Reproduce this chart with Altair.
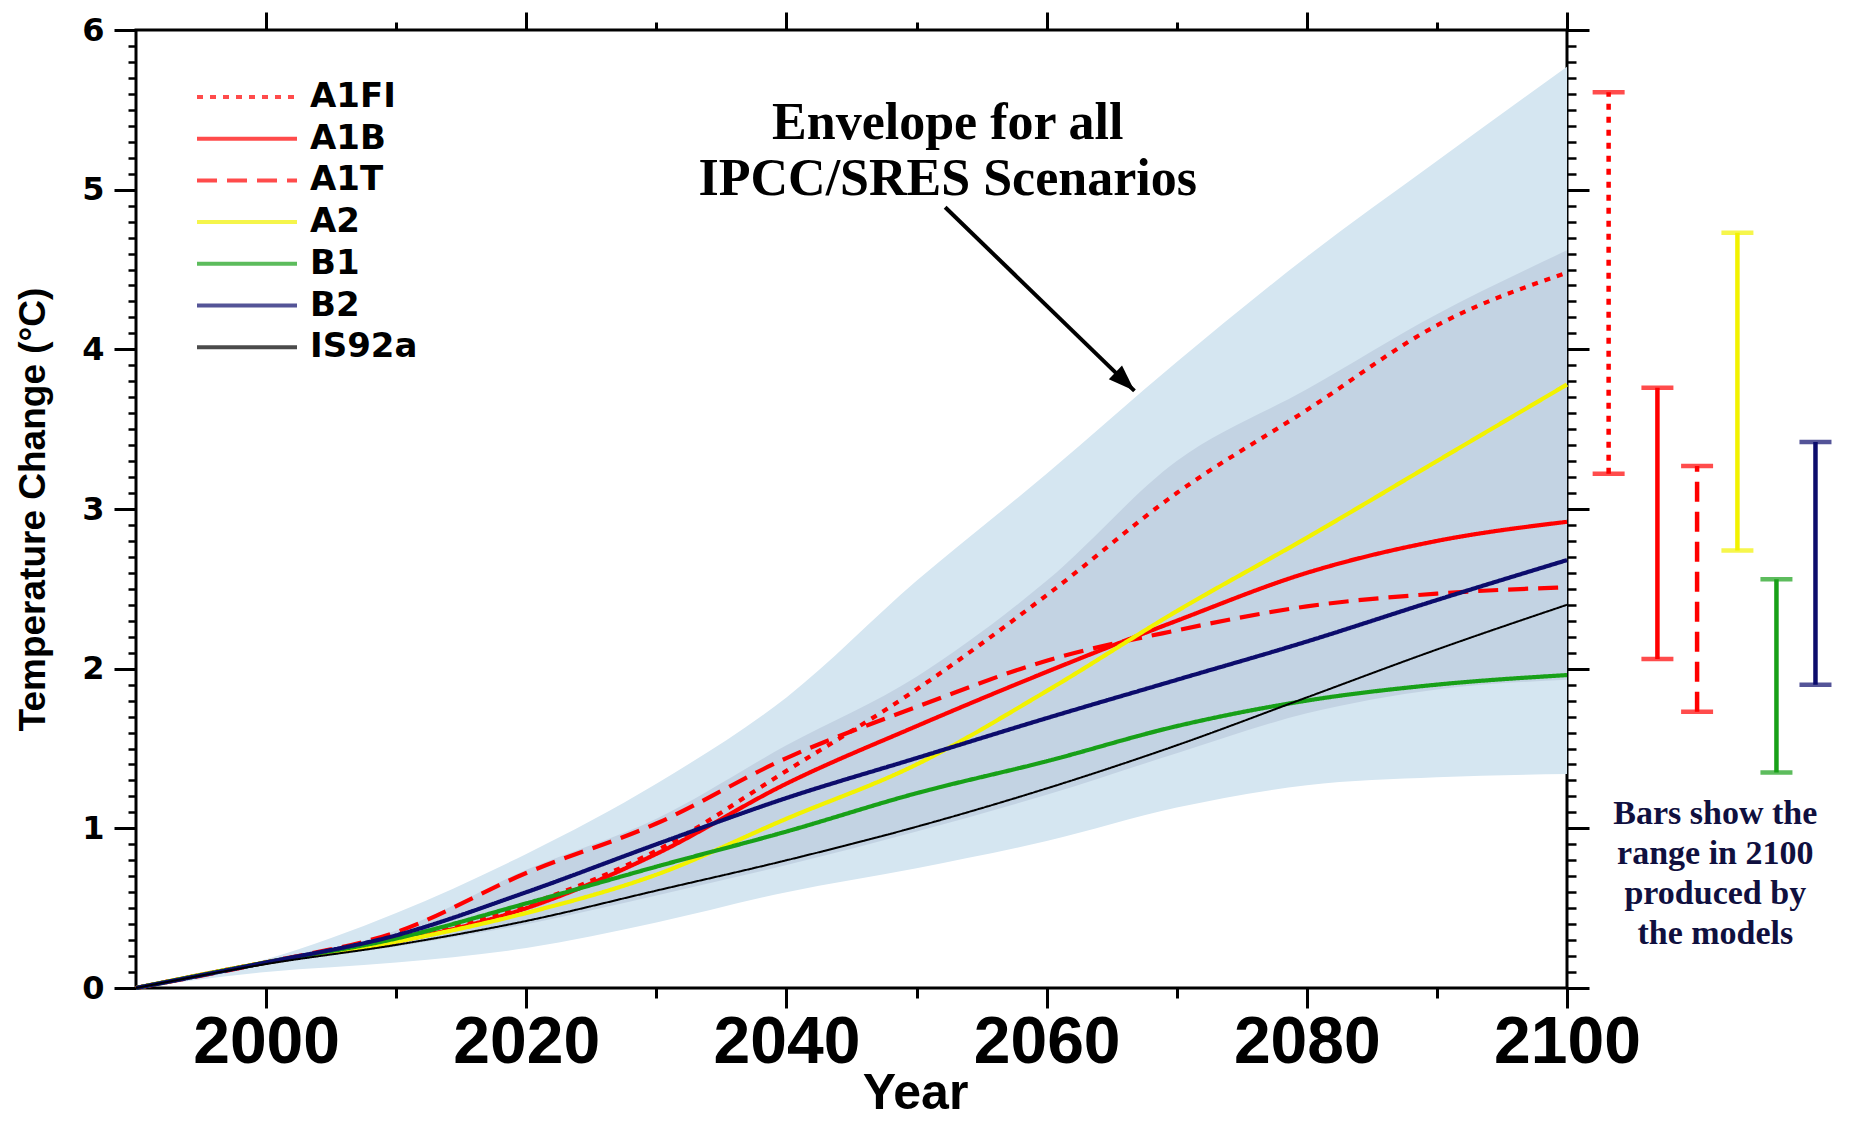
import altair as alt
import pandas as pd

# ---------------- data ----------------
years = [1990, 2000, 2010, 2020, 2030, 2040, 2050, 2060, 2070, 2080, 2090, 2100]
scenarios = ["A1FI", "A1B", "A1T", "A2", "B1", "B2", "IS92a"]

a1fi = [0, 0.16, 0.30, 0.52, 0.86, 1.36, 1.87, 2.46, 3.10, 3.62, 4.15, 4.48]
a1b = [0, 0.16, 0.29, 0.50, 0.84, 1.28, 1.64, 1.98, 2.30, 2.60, 2.80, 2.92]
a1t = [0, 0.16, 0.35, 0.72, 1.03, 1.44, 1.76, 2.05, 2.24, 2.39, 2.47, 2.51]
a2 = [0, 0.16, 0.29, 0.47, 0.71, 1.06, 1.40, 1.86, 2.36, 2.82, 3.30, 3.78]
b1 = [0, 0.16, 0.31, 0.53, 0.76, 0.98, 1.22, 1.42, 1.64, 1.80, 1.90, 1.96]
b2 = [0, 0.16, 0.33, 0.60, 0.90, 1.19, 1.44, 1.69, 1.93, 2.17, 2.43, 2.68]
is92a = [0, 0.15, 0.27, 0.42, 0.61, 0.80, 1.01, 1.25, 1.52, 1.82, 2.12, 2.40]

outer_high = [0, 0.18, 0.47, 0.84, 1.28, 1.82, 2.55, 3.22, 3.92, 4.58, 5.18, 5.77]
outer_low = [0, 0.10, 0.16, 0.25, 0.41, 0.60, 0.75, 0.92, 1.13, 1.27, 1.32, 1.34]
inner_high = [0, 0.16, 0.36, 0.74, 1.06, 1.52, 1.95, 2.55, 3.30, 3.75, 4.22, 4.62]
inner_low = [0, 0.15, 0.26, 0.40, 0.58, 0.77, 0.98, 1.21, 1.47, 1.72, 1.87, 1.93]

bar_scenarios = ["A1FI", "A1B", "A1T", "A2", "B1", "B2"]
bar_low = [3.22, 2.06, 1.73, 2.74, 1.35, 1.90]
bar_high = [5.61, 3.76, 3.27, 4.73, 2.56, 3.42]

x_major = [2000, 2020, 2040, 2060, 2080, 2100]
x_minor = [2010, 2030, 2050, 2070, 2090]
y_major = [0, 1, 2, 3, 4, 5, 6]
y_minor = [round(i * 0.1, 1) for i in range(61) if i % 10]

annotation_lines = ["Envelope for all", "IPCC/SRES Scenarios"]
note_lines = ["Bars show the", "range in 2100", "produced by", "the models"]

# ---------------- styles / layout ----------------
colors = ["#ff0000", "#ff0000", "#ff0000", "#f2f200", "#18a018", "#0c0c6c", "#000000"]
dashes = [[6, 7], [1, 0], [20, 10], [1, 0], [1, 0], [1, 0], [1, 0]]
LIGHT = "#d5e6f1"
DARK = "#c3d3e3"
bar_offsets = [3.2, 6.95, 10.0, 13.1, 16.1, 19.1]  # years right of 2100 (layout)

series = dict(zip(scenarios, [a1fi, a1b, a1t, a2, b1, b2, is92a]))
lines_df = pd.DataFrame(
    [dict(year=y, scenario=s, temp=v) for s in scenarios for y, v in zip(years, series[s])]
)
env_df = pd.DataFrame(dict(year=years, olo=outer_low, ohi=outer_high, ilo=inner_low, ihi=inner_high))
bars_df = pd.DataFrame(dict(scenario=bar_scenarios, lo=bar_low, hi=bar_high,
                            pos=[2100 + o for o in bar_offsets]))
caps_df = pd.concat([
    bars_df[["scenario", "pos"]].assign(val=bars_df["lo"]),
    bars_df[["scenario", "pos"]].assign(val=bars_df["hi"]),
])

xs = alt.Scale(domain=[1990, 2100], nice=False, zero=False)
ys = alt.Scale(domain=[0, 6], nice=False, zero=False)
cscale = alt.Scale(domain=scenarios, range=colors)
dscale = alt.Scale(domain=scenarios, range=dashes)

legend = alt.Legend(
    orient="none", legendX=59, legendY=50, title=None,
    symbolType="stroke", symbolSize=10000, symbolStrokeWidth=4,
    labelFont="DejaVu Sans", labelFontWeight="bold", labelFontSize=34,
    labelColor="black", labelOffset=11, rowPadding=7.7, padding=0, labelLimit=0,
    clipHeight=34,
)


def tick_axis(orient, values, size, width=3):
    return alt.Axis(orient=orient, values=values, tickSize=size, tickWidth=width,
                    tickColor="black", labels=False, domain=False, grid=False, title=None)


ax_bottom = alt.Axis(
    orient="bottom", values=x_major, format="d", tickSize=20, tickWidth=3, tickColor="black",
    domain=False, grid=False, labelFont="Liberation Sans", labelFontWeight="bold",
    labelFontSize=66, labelColor="black", labelPadding=2, labelFlush=False, labelOverlap=False,
    title="Year", titleFont="Liberation Sans", titleFontWeight="bold", titleFontSize=50,
    titleColor="black", titleX=779, titleY=120, titleBaseline="alphabetic", titleAlign="center",
)
ax_left = alt.Axis(
    orient="left", values=y_major, format="d", tickSize=22, tickWidth=3, tickColor="black",
    domain=False, grid=False, labelFont="DejaVu Sans", labelFontWeight="bold",
    labelFontSize=32, labelColor="black", labelPadding=10, labelFlush=False, labelOverlap=False,
    title="Temperature Change (°C)", titleFont="Liberation Sans", titleFontWeight="bold",
    titleFontSize=37, titleColor="black", titleAngle=270, titleX=-92, titleY=479,
    titleBaseline="alphabetic", titleAlign="center",
)

outer = alt.Chart(env_df).mark_area(color=LIGHT, interpolate="monotone").encode(
    x=alt.X("year:Q", scale=xs, axis=ax_bottom),
    y=alt.Y("olo:Q", scale=ys, axis=ax_left),
    y2="ohi:Q",
)
inner = alt.Chart(env_df).mark_area(color=DARK, interpolate="monotone").encode(
    x=alt.X("year:Q", scale=xs, axis=tick_axis("bottom", x_minor, 10)),
    y=alt.Y("ilo:Q", scale=ys, axis=tick_axis("left", y_minor, 8, 2.5)),
    y2="ihi:Q",
)
main_lines = alt.Chart(lines_df[lines_df.scenario != "IS92a"]).mark_line(
    strokeWidth=4.2, interpolate="monotone").encode(
    x=alt.X("year:Q", scale=xs, axis=tick_axis("top", x_major, 18)),
    y=alt.Y("temp:Q", scale=ys, axis=tick_axis("right", y_major, 22)),
    color=alt.Color("scenario:N", scale=cscale, legend=legend, sort=scenarios),
    strokeDash=alt.StrokeDash("scenario:N", scale=dscale, legend=legend, sort=scenarios),
)
thin_line = alt.Chart(lines_df[lines_df.scenario == "IS92a"]).mark_line(
    strokeWidth=2, interpolate="monotone").encode(
    x=alt.X("year:Q", scale=xs, axis=None),
    y=alt.Y("temp:Q", scale=ys, axis=None),
    color=alt.Color("scenario:N", scale=cscale, legend=legend, sort=scenarios),
    strokeDash=alt.StrokeDash("scenario:N", scale=dscale, legend=legend, sort=scenarios),
)
bar_rules = alt.Chart(bars_df).mark_rule(strokeWidth=4.5).encode(
    x=alt.X("pos:Q", scale=xs, axis=tick_axis("top", x_minor, 8)),
    y=alt.Y("lo:Q", scale=ys, axis=tick_axis("right", y_minor, 9, 2.5)),
    y2="hi:Q",
    color=alt.Color("scenario:N", scale=cscale, legend=legend, sort=scenarios),
    strokeDash=alt.StrokeDash("scenario:N", scale=dscale, legend=legend, sort=scenarios),
)
bar_caps = alt.Chart(caps_df).mark_tick(orient="horizontal", size=32, thickness=4.5).encode(
    x=alt.X("pos:Q", scale=xs, axis=None),
    y=alt.Y("val:Q", scale=ys, axis=None),
    color=alt.Color("scenario:N", scale=cscale, legend=legend, sort=scenarios),
)

arrow_df = pd.DataFrame(dict(x=[2052.2], y=[4.89], x2=[2066.75], y2=[3.74]))
arrow = alt.Chart(arrow_df).mark_rule(color="black", strokeWidth=4).encode(
    x=alt.X("x:Q", scale=xs, axis=None), y=alt.Y("y:Q", scale=ys, axis=None),
    x2="x2:Q", y2="y2:Q",
)
head = alt.Chart(arrow_df).mark_point(
    shape="M0,0 L-0.36,1 L0.36,1 Z", angle=134, size=2800, filled=True,
    color="black", opacity=1, strokeWidth=0).encode(
    x=alt.X("x2:Q", scale=xs, axis=None), y=alt.Y("y2:Q", scale=ys, axis=None),
)

ann_df = pd.DataFrame(dict(x=[2052.4], y=[5.32]))
ann = alt.Chart(ann_df).mark_text(
    text=annotation_lines, font="Liberation Serif", fontWeight="bold", fontSize=52,
    align="center", baseline="alphabetic", lineHeight=56, color="black").encode(
    x=alt.X("x:Q", scale=xs, axis=None), y=alt.Y("y:Q", scale=ys, axis=None),
)
note_df = pd.DataFrame(dict(x=[2111.4], y=[1.03]))
note = alt.Chart(note_df).mark_text(
    text=note_lines, font="Liberation Serif", fontWeight="bold", fontSize=34,
    align="center", baseline="alphabetic", lineHeight=40, color="#10103f").encode(
    x=alt.X("x:Q", scale=xs, axis=None), y=alt.Y("y:Q", scale=ys, axis=None),
)

chart = alt.layer(
    outer, inner, main_lines, thin_line, bar_rules, bar_caps, arrow, head, ann, note
).resolve_axis(x="independent", y="independent").properties(
    width=1431, height=958,
    autosize=alt.AutoSizeParams(type="none"),
    padding={"left": 128, "top": 22, "right": 276, "bottom": 134},
    background="white",
).configure_view(stroke="black", strokeWidth=3)

chart.save("out.html", embed_options={"renderer": "svg", "actions": False})
